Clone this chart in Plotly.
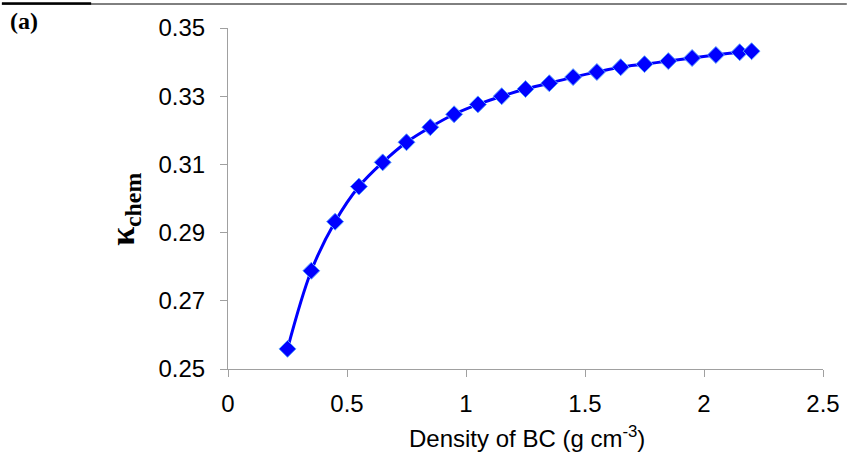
import plotly.graph_objects as go

# Density of black carbon (g cm^-3) and the resulting chemical hygroscopicity
density = [0.25, 0.35, 0.45, 0.55, 0.65, 0.75, 0.85, 0.95, 1.05, 1.15, 1.25,
           1.35, 1.45, 1.55, 1.65, 1.75, 1.85, 1.95, 2.05, 2.15, 2.2]
kappa_chem = [0.2559, 0.2788, 0.2932, 0.3035, 0.3106, 0.3165, 0.3209, 0.3247,
              0.3276, 0.3300, 0.3321, 0.3338, 0.3356, 0.3371, 0.3385, 0.3394,
              0.3403, 0.3412, 0.3421, 0.3429, 0.3432]

x_ticks = [0, 0.5, 1, 1.5, 2, 2.5]
y_ticks = [0.25, 0.27, 0.29, 0.31, 0.33, 0.35]

W, H = 852, 464
L, R, T, B = 228, 24, 28, 95
PW, PH = W - L - R, H - T - B


def px(xp):
    return (xp - L) / PW


def py(yp):
    return (H - B - yp) / PH


AX = "#a0a0a0"
SANS = "Liberation Sans"
SERIF = "Liberation Serif"

fig = go.Figure()
fig.add_trace(go.Scatter(
    x=density, y=kappa_chem, mode="lines+markers",
    line=dict(color="#0000ff", width=3, shape="spline", smoothing=1.0),
    marker=dict(symbol="diamond", size=13, color="#0000ff",
                line=dict(color="#5aa0ff", width=1)),
    showlegend=False, cliponaxis=False,
))

axis_common = dict(
    showline=True, linecolor=AX, linewidth=1,
    ticks="outside", ticklen=7, tickcolor=AX, tickwidth=1,
    showgrid=False, zeroline=False,
    tickfont=dict(family=SANS, size=24, color="black"),
)

fig.update_xaxes(range=[0, 2.5], tickvals=x_ticks,
                 ticktext=[f"{v:g}" for v in x_ticks],
                 ticklabelstandoff=6, **axis_common)
fig.update_yaxes(range=[0.25, 0.35], tickvals=y_ticks,
                 ticktext=[f"{v:.2f}" for v in y_ticks],
                 ticklabelstandoff=10, **axis_common)

annotations = [
    dict(text="Density of BC (g cm<sup>-3</sup>)", xref="paper", yref="paper",
         x=px(530), y=py(437), xanchor="center", yanchor="middle",
         showarrow=False, font=dict(family=SANS, size=24, color="black")),
    dict(text="<b>κ<sub>chem</sub></b>", xref="paper", yref="paper",
         x=px(124), y=py(209), xanchor="center", yanchor="middle",
         textangle=-90, showarrow=False,
         font=dict(family=SERIF, size=34, color="black")),
    dict(text="<b>(a)</b>", xref="paper", yref="paper",
         x=px(6), y=py(21), xanchor="left", yanchor="middle",
         showarrow=False, font=dict(family=SERIF, size=24, color="black")),
]

shapes = [
    dict(type="line", xref="paper", yref="paper",
         x0=px(0), x1=px(W), y0=py(4), y1=py(4),
         line=dict(color="black", width=1)),
    dict(type="line", xref="paper", yref="paper",
         x0=px(0), x1=px(90), y0=py(3.5), y1=py(3.5),
         line=dict(color="black", width=2.5)),
]

fig.update_layout(
    width=W, height=H,
    margin=dict(l=L, r=R, t=T, b=B, pad=0),
    paper_bgcolor="white", plot_bgcolor="white",
    annotations=annotations, shapes=shapes,
)

fig.write_html("out.html")
